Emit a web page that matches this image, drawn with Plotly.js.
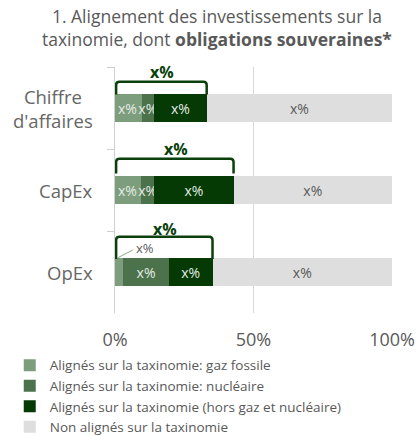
<!DOCTYPE html>
<html>
<head>
<meta charset="utf-8">
<script src="https://cdn.plot.ly/plotly-3.0.1.min.js"></script>
<style>html,body{margin:0;padding:0;background:#fff;}#chart{width:416px;height:436px;}</style>
</head>
<body>
<div id="chart"></div>
<script>
// ---- data ----
const categories = ["Chiffre d'affaires", "CapEx", "OpEx"];
const categoryLabels = ["Chiffre<br>d'affaires", "CapEx", "OpEx"];
const seriesNames = [
  "Alignés sur la taxinomie: gaz fossile",
  "Alignés sur la taxinomie: nucléaire",
  "Alignés sur la taxinomie (hors gaz et nucléaire)",
  "Non alignés sur la taxinomie"
];
const gazFossile = [9.6, 9.4, 3.0];
const nucleaire = [4.5, 4.8, 16.4];
const horsGazNucleaire = [19.0, 28.6, 15.8];
const nonAlignes = [66.9, 57.2, 64.8];
const gazLabels = ["x%", "x%", ""];
const nucLabels = ["x%", "x%", "x%"];
const horsLabels = ["x%", "x%", "x%"];
const nonLabels = ["x%", "x%", "x%"];
const totalLabels = ["x%", "x%", "x%"];
const opexGazLabel = "x%";
const xTickVals = [0, 50, 100];
const xTickText = ["0%", "50%", "100%"];

// ---- style ----
const colors = ["#7d9e7d", "#4c724c", "#053a05", "#dedede"];
const textColors = ["#e4ebe4", "#e4ebe4", "#e4ebe4", "#595959"];
const textAnchors = ["start", "middle", "middle", "middle"];
const gray = "#595959";
const bracketColor = "#0b3f0b";
const font = "Open Sans, sans-serif";
// bracket geometry per category (offsets above bar centre, in category units)
const bracketTop = [0.32, 0.38, 0.43];
const bracketBottom = [0.165, 0.2, 0.16];
const labelOff = [0.44, 0.50, 0.53];

const series = [gazFossile, nucleaire, horsGazNucleaire, nonAlignes];
const labels = [gazLabels, nucLabels, horsLabels, nonLabels];

const traces = series.map((vals, k) => ({
  type: "bar",
  orientation: "h",
  name: seriesNames[k],
  y: categories,
  x: vals,
  text: labels[k],
  textposition: "inside",
  insidetextanchor: textAnchors[k],
  textfont: {family: font, size: 14, color: textColors[k]},
  marker: {color: colors[k], line: {width: 0}},
  width: 0.34,
  hoverinfo: "skip",
  cliponaxis: false
}));
// invisible helper trace for numeric overlay axis
traces.push({type: "scatter", x: [0], y: [0], yaxis: "y2", mode: "markers",
  marker: {opacity: 0}, showlegend: false, hoverinfo: "skip"});

const shapes = [];
const annotations = [];
categories.forEach((c, i) => {
  const total = gazFossile[i] + nucleaire[i] + horsGazNucleaire[i];
  const x0 = 0.4, x1 = total;
  const yt = i - bracketTop[i], yb = i - bracketBottom[i];
  const rx = 1.2, ry = 0.04;
  shapes.push({
    type: "path", xref: "x", yref: "y2",
    path: `M${x0},${yb} L${x0},${yt + ry} Q${x0},${yt} ${x0 + rx},${yt} L${x1 - rx},${yt} Q${x1},${yt} ${x1},${yt + ry} L${x1},${yb}`,
    line: {color: bracketColor, width: 2.5}
  });
  annotations.push({
    xref: "x", yref: "y2", x: total / 2 + 0.5, y: i - labelOff[i],
    text: "<b>" + totalLabels[i] + "</b>", showarrow: false,
    font: {family: font, size: 16, color: bracketColor}
  });
  annotations.push({
    xref: "paper", yref: "y2", x: 0, y: i, xanchor: "right", xshift: -20,
    text: categoryLabels[i], showarrow: false, align: "center",
    font: {family: font, size: 18.5, color: "#666666"}
  });
});
// OpEx small fossil label with leader line
shapes.push({type: "line", xref: "x", yref: "y2",
  x0: 0.8, y0: 2 - 0.17, x1: 6.5, y1: 2 - 0.27,
  line: {color: "#8fa88f", width: 1}});
annotations.push({xref: "x", yref: "y2", x: 6.8, y: 2 - 0.29, xanchor: "left",
  text: opexGazLabel, showarrow: false,
  font: {family: font, size: 13, color: gray}});
// chart title
annotations.push({
  xref: "paper", yref: "paper", x: 0.5, xshift: -37, y: 1.1626, yanchor: "middle",
  text: "1. Alignement des investissements sur la<br>taxinomie, dont <b>obligations souveraines*</b>",
  showarrow: false, align: "center",
  font: {family: font, size: 17.5, color: gray}
});

const layout = {
  width: 416, height: 436,
  margin: {l: 115, r: 24, t: 67, b: 123, autoexpand: false},
  paper_bgcolor: "#fff", plot_bgcolor: "#fff",
  barmode: "stack",
  showlegend: true,
  uniformtext: {mode: "show", minsize: 14},
  xaxis: {
    range: [0, 100], tickvals: xTickVals, ticktext: xTickText,
    showgrid: true, gridcolor: "#d9d9d9", gridwidth: 1.5, zeroline: false,
    showline: false, ticks: "", ticklabelstandoff: 14,
    tickfont: {family: font, size: 18, color: gray}, fixedrange: true
  },
  yaxis: {
    type: "category", autorange: "reversed",
    range: [2.5, -0.5],
    showline: true, linecolor: "#d0d0d0", linewidth: 1.5,
    ticks: "outside", tickson: "boundaries", ticklen: 7, tickcolor: "#d0d0d0",
    showticklabels: false, showgrid: false, zeroline: false
  },
  yaxis2: {
    overlaying: "y", range: [2.5, -0.5], visible: false, showgrid: false, zeroline: false
  },
  legend: {
    orientation: "v", traceorder: "normal",
    x: -0.38, xanchor: "left", y: -0.15, yanchor: "top",
    font: {family: font, size: 13.5, color: gray},
    itemwidth: 30, tracegroupgap: 0, bgcolor: "rgba(0,0,0,0)"
  },
  shapes: shapes,
  annotations: annotations
};

Plotly.newPlot("chart", traces, layout, {displayModeBar: false, staticPlot: true});
</script>
</body>
</html>
